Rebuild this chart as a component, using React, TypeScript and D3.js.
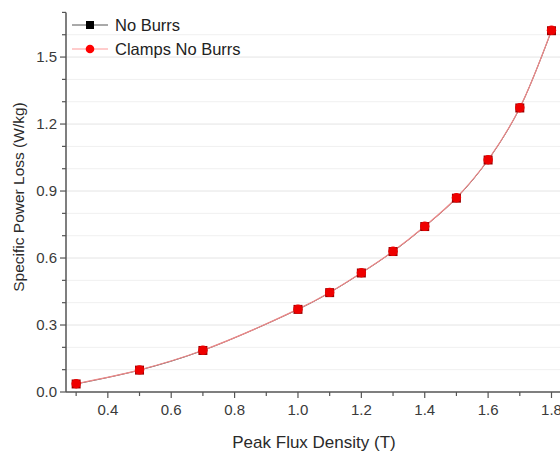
import React from "react";
import * as d3 from "d3";

const fluxDensity = [0.3, 0.5, 0.7, 1.0, 1.1, 1.2, 1.3, 1.4, 1.5, 1.6, 1.7, 1.8];
const noBurrs = [0.036, 0.098, 0.186, 0.370, 0.445, 0.533, 0.629, 0.741, 0.868, 1.039, 1.272, 1.618];
const clampsNoBurrs = [0.037, 0.099, 0.187, 0.371, 0.446, 0.534, 0.630, 0.742, 0.870, 1.040, 1.273, 1.620];
const xTicks = [0.4, 0.6, 0.8, 1.0, 1.2, 1.4, 1.6, 1.8];
const xMinorTicks = [0.3, 0.5, 0.7, 0.9, 1.1, 1.3, 1.5, 1.7];
const yTicks = [0.0, 0.3, 0.6, 0.9, 1.2, 1.5];
const yMinorTicks = [0.1, 0.2, 0.4, 0.5, 0.7, 0.8, 1.0, 1.1, 1.3, 1.4, 1.6];

const W = 560, H = 455;
const x = d3.scaleLinear().domain([0.268, 1.83]).range([66, 561]);
const y = d3.scaleLinear().domain([0, 1.7]).range([392, 12.4]);
const font = "Arial, 'Liberation Sans', sans-serif";

export default function App() {
  const blackPath = d3.line<number>()
    .x((_, i) => x(fluxDensity[i]))
    .y((d) => y(d))
    .curve(d3.curveCatmullRom)(noBurrs) || "";
  const redPath = d3.line<number>()
    .x((_, i) => x(fluxDensity[i]))
    .y((d) => y(d))
    .curve(d3.curveCatmullRom)(clampsNoBurrs) || "";
  const axisColor = "#555";
  return (
    <svg width={W} height={H} style={{ position: "absolute", left: 0, top: 0 }} fontFamily={font}>
      <rect width={W} height={H} fill="#fff" />
      {yMinorTicks.map((t) => (
        <line key={"gm" + t} x1={66} x2={W} y1={y(t)} y2={y(t)} stroke="#f0f0f0" strokeWidth={1} />
      ))}
      {yTicks.filter((t) => t > 0).map((t) => (
        <line key={"gM" + t} x1={66} x2={W} y1={y(t)} y2={y(t)} stroke="#e4e4e4" strokeWidth={1} />
      ))}
      <line x1={66} x2={66} y1={12.4} y2={392} stroke={axisColor} strokeWidth={1.5} />
      <line x1={66} x2={W} y1={392} y2={392} stroke={axisColor} strokeWidth={1.5} />
      {yTicks.map((t) => (
        <g key={"yt" + t}>
          <line x1={60} x2={66} y1={y(t)} y2={y(t)} stroke={axisColor} strokeWidth={1.2} />
          <text x={57} y={y(t)} dy="0.35em" textAnchor="end" fontSize={15} fill="#3a3a3a">{t.toFixed(1)}</text>
        </g>
      ))}
      {yMinorTicks.concat([1.7]).map((t) => (
        <line key={"ym" + t} x1={62} x2={66} y1={y(t)} y2={y(t)} stroke={axisColor} strokeWidth={1.2} />
      ))}
      {xTicks.map((t) => (
        <g key={"xt" + t}>
          <line x1={x(t)} x2={x(t)} y1={392} y2={398} stroke={axisColor} strokeWidth={1.2} />
          <text x={x(t)} y={415} textAnchor="middle" fontSize={15} fill="#3a3a3a">{t.toFixed(1)}</text>
        </g>
      ))}
      {xMinorTicks.map((t) => (
        <line key={"xm" + t} x1={x(t)} x2={x(t)} y1={392} y2={396} stroke={axisColor} strokeWidth={1.2} />
      ))}
      <text x={314} y={448} textAnchor="middle" fontSize={17} fill="#2a2a2a">Peak Flux Density (T)</text>
      <text transform={`translate(24,197) rotate(-90)`} textAnchor="middle" fontSize={15.5} fill="#2a2a2a">Specific Power Loss (W/kg)</text>
      <path d={blackPath} fill="none" stroke="#555" strokeWidth={1} />
      <path d={redPath} fill="none" stroke="#e88" strokeWidth={1.2} />
      {noBurrs.map((v, i) => (
        <rect key={"b" + i} x={x(fluxDensity[i]) - 4.5} y={y(v) - 4.5} width={9} height={9} fill="#900" />
      ))}
      {clampsNoBurrs.map((v, i) => (
        <circle key={"r" + i} cx={x(fluxDensity[i])} cy={y(v)} r={4.7} fill="#e00" />
      ))}
      <line x1={72} x2={108} y1={25} y2={25} stroke="#555" strokeWidth={1} />
      <rect x={86} y={21} width={8} height={8} fill="#000" />
      <text x={115} y={25} dy="0.35em" fontSize={16.5} fill="#222">No Burrs</text>
      <line x1={72} x2={108} y1={49} y2={49} stroke="#f99" strokeWidth={1} />
      <circle cx={90} cy={49} r={4.3} fill="#f00" />
      <text x={115} y={49} dy="0.35em" fontSize={16.5} fill="#222">Clamps No Burrs</text>
    </svg>
  );
}
